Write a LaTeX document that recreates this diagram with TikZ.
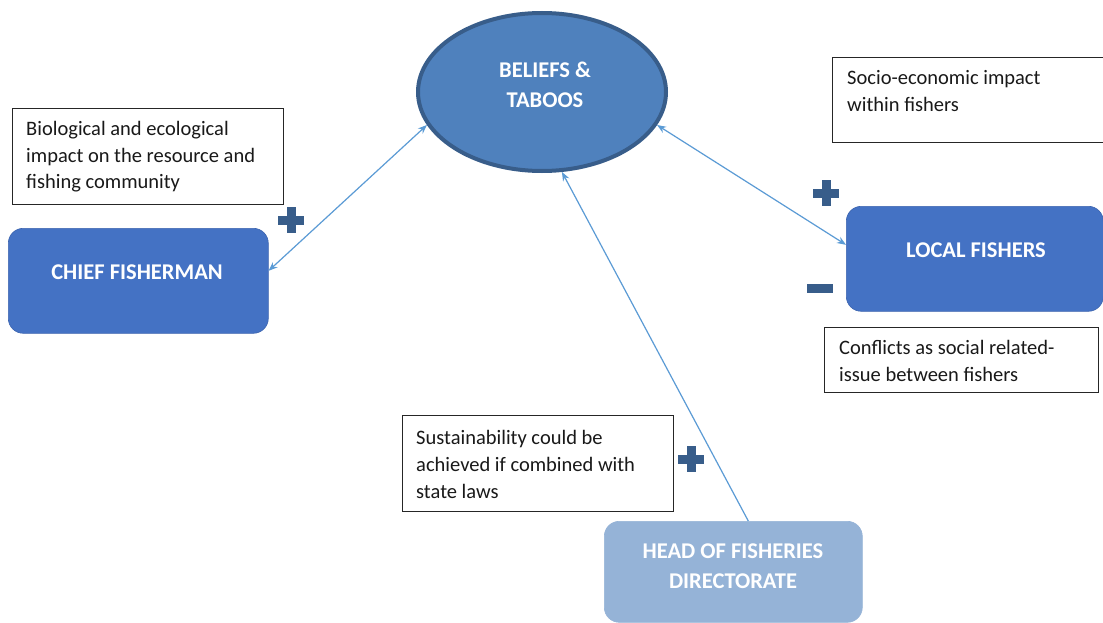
\documentclass[tikz,border=0pt]{standalone}
\usepackage{fontspec}
\setmainfont{Carlito}
\usetikzlibrary{shapes.geometric,arrows.meta}
\definecolor{ellfill}{RGB}{79,129,189}
\definecolor{elldraw}{RGB}{56,93,138}
\definecolor{boxfill}{RGB}{68,114,196}
\definecolor{boxdraw}{RGB}{60,100,175}
\definecolor{headfill}{RGB}{149,179,215}
\definecolor{arrowc}{RGB}{91,155,213}
\definecolor{signc}{RGB}{56,93,138}
\tikzset{
  actor/.style={rectangle, rounded corners=15pt, fill=boxfill, draw=boxdraw, line width=0.6pt, inner sep=0pt, anchor=north west},
  lbl/.style={text=white, font=\fontsize{22.5}{30}\selectfont\bfseries, align=center, inner sep=0pt},
  note/.style={rectangle, draw=black!85, line width=1.2pt, fill=white, inner sep=0pt, anchor=north west},
  notetxt/.style={font=\fontsize{20.5}{27}\selectfont, align=left, inner sep=0pt, anchor=base west, text=black!90},
  link/.style={draw=arrowc, line width=1.2pt},
  tip/.style={-{Stealth[length=9pt,width=7pt]}},
  tips/.style={{Stealth[length=9pt,width=7pt]}-{Stealth[length=9pt,width=7pt]}},
  sign/.style={fill=signc},
}
\newcommand{\plussign}[2]{%
  \fill[sign] (#1-13,#2-4.5) rectangle (#1+13,#2+4.5);
  \fill[sign] (#1-4.5,#2-13) rectangle (#1+4.5,#2+13);}
\begin{document}
\begin{tikzpicture}[x=1pt,y=-1pt]
\useasboundingbox (0,0) rectangle (1103,623);
\fill[white] (0,0) rectangle (1103,623);

% central ellipse
\node[ellipse, fill=ellfill, draw=elldraw, line width=4pt, minimum width=248pt, minimum height=158pt, inner sep=0pt] (bt) at (542,92) {};
\node[lbl] (btl) at (545,85) {BELIEFS \&\\TABOOS};

% actor boxes
\node[actor, minimum width=260pt, minimum height=105pt] (chief) at (8,228) {};
\node[lbl] (chiefl) at (137,272) {CHIEF FISHERMAN};
\node[actor, minimum width=257pt, minimum height=105pt] (local) at (846,206) {};
\node[lbl] (locall) at (976,250) {LOCAL FISHERS};
\node[actor, fill=headfill, draw=headfill, minimum width=258pt, minimum height=101pt] (head) at (604,521) {};
\node[lbl] (headl) at (733,566) {HEAD OF FISHERIES\\DIRECTORATE};

% note boxes
\node[note, minimum width=271pt, minimum height=96pt] (bio) at (12,108) {};
\node[notetxt] (biot) at (26,189) {Biological and ecological\\impact on the resource and\\fishing community};
\node[note, minimum width=272pt, minimum height=85pt] (socio) at (832,57) {};
\node[notetxt] (sociot) at (847,112) {Socio-economic impact\\within fishers};
\node[note, minimum width=274pt, minimum height=65pt] (confl) at (824,327) {};
\node[notetxt] (conflt) at (839,381) {Conflicts as social related-\\issue between fishers};
\node[note, minimum width=271pt, minimum height=96pt] (sust) at (402,415) {};
\node[notetxt] (sustt) at (416,498) {Sustainability could be\\achieved if combined with\\state laws};

% connectors
\draw[link,tips] ([yshift=10pt]chief.east) -- (bt.196);
\draw[link,tips] (bt.344) -- ([yshift=14pt]local.west);
\draw[link,tip] ([xshift=15pt]head.north) -- (bt.284);

% signs
\plussign{291}{220}
\plussign{826}{193}
\plussign{691}{459}
\fill[sign] (807,284) rectangle (833,293);
\end{tikzpicture}
\end{document}
